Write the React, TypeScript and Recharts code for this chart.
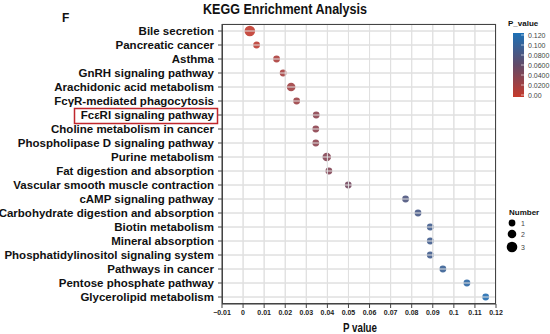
import React from 'react';
import { ScatterChart, Scatter, XAxis, YAxis, CartesianGrid } from 'recharts';

const pathways = [
  'Bile secretion',
  'Pancreatic cancer',
  'Asthma',
  'GnRH signaling pathway',
  'Arachidonic acid metabolism',
  'FcγR-mediated phagocytosis',
  'FcεRI signaling pathway',
  'Choline metabolism in cancer',
  'Phospholipase D signaling pathway',
  'Purine metabolism',
  'Fat digestion and absorption',
  'Vascular smooth muscle contraction',
  'cAMP signaling pathway',
  'Carbohydrate digestion and absorption',
  'Biotin metabolism',
  'Mineral absorption',
  'Phosphatidylinositol signaling system',
  'Pathways in cancer',
  'Pentose phosphate pathway',
  'Glycerolipid metabolism',
];

const pValues = [
  0.0032, 0.0064, 0.0159, 0.019, 0.0228, 0.0254, 0.0347, 0.0345, 0.0345, 0.0397,
  0.0407, 0.0499, 0.0771, 0.083, 0.0888, 0.0888, 0.0888, 0.0948, 0.1062, 0.1151,
];

const counts = [3, 1, 1, 1, 2, 1, 1, 1, 1, 2, 1, 1, 1, 1, 1, 1, 1, 1, 1, 1];

const xTicks = [-0.01, 0, 0.01, 0.02, 0.03, 0.04, 0.05, 0.06, 0.07, 0.08, 0.09, 0.1, 0.11, 0.12];
const colorbarValues = [0.12, 0.1, 0.08, 0.06, 0.04, 0.02, 0];
const colorbarLabels = ['0.120', '0.100', '0.0800', '0.0600', '0.0400', '0.0200', '0.00'];
const sizeLegend = [1, 2, 3];

const data = pathways.map((name, i) => ({ name, p: pValues[i], n: counts[i] }));

const FONT = "Arial, 'Liberation Sans', sans-serif";

// layout (chart 550x334, margin top 24 / right 54, x-axis height 30, y-axis width 222)
const PLOT_LEFT = 222;
const PLOT_RIGHT = 496;
const PLOT_TOP = 24;
const PLOT_BOTTOM = 304;
const GRID = '#e0e0e0';

const stops: [number, number[]][] = [
  [0, [198, 58, 44]],
  [0.06, [98, 74, 104]],
  [0.12, [28, 112, 182]],
];

function colorFor(p: number): string {
  const v = Math.max(0, Math.min(0.12, p));
  for (let i = 0; i < stops.length - 1; i++) {
    const [a, ca] = stops[i];
    const [b, cb] = stops[i + 1];
    if (v >= a && v <= b) {
      const t = (v - a) / (b - a);
      const c = ca.map((x, k) => Math.round(x + (cb[k] - x) * t));
      return `rgb(${c[0]},${c[1]},${c[2]})`;
    }
  }
  return 'rgb(28,112,182)';
}

const radiusFor = (n: number) => (n === 1 ? 3.4 : n === 2 ? 4.3 : 5.3);

const Dot = (props: any) => {
  const { cx, cy, payload } = props;
  if (cx == null || cy == null) return null;
  return (
    <circle cx={cx} cy={cy} r={radiusFor(payload.n)} fill={colorFor(payload.p)} fillOpacity={0.9} />
  );
};

const YTick = (props: any) => {
  const { x, y, payload } = props;
  return (
    <g>
      <line x1={PLOT_LEFT + 1} x2={PLOT_RIGHT - 1} y1={y} y2={y} stroke={GRID} strokeWidth={1} />
      <text x={x} y={y} dy={4} textAnchor="end" fontFamily={FONT} fontWeight="bold" fontSize={11.5} fill="#111">
        {payload.value}
      </text>
    </g>
  );
};

const fmtX = (v: number) => {
  if (v < 0) return '\u2212' + String(Math.abs(Math.round(v * 1000) / 1000));
  return String(Math.round(v * 1000) / 1000);
};

const XTick = (props: any) => {
  const { x, y, payload } = props;
  const inside = x > PLOT_LEFT + 1 && x < PLOT_RIGHT - 1;
  return (
    <g>
      {inside && <line x1={x} x2={x} y1={PLOT_TOP + 1} y2={PLOT_BOTTOM - 1} stroke={GRID} strokeWidth={1} />}
      <text x={x} y={y} dy="0.71em" textAnchor="middle" fontFamily={FONT} fontWeight="bold" fontSize={7} fill="#222">
        {fmtX(payload.value)}
      </text>
    </g>
  );
};

export default function App() {
  const barTop = 33;
  const barBottom = 97;
  const valTop = 35;
  const valBottom = 95;
  const yForVal = (v: number) => valBottom - (v / 0.12) * (valBottom - valTop);
  const legendY = [223, 234, 247];
  return (
    <div style={{ position: 'absolute', left: 0, top: 0, width: 550, height: 334, background: '#fff' }}>
      <ScatterChart width={550} height={334} margin={{ top: 24, right: 54, bottom: 0, left: 0 }}>
        <CartesianGrid stroke={GRID} strokeWidth={1} />
        <XAxis
          type="number"
          dataKey="p"
          domain={[-0.01, 0.12]}
          ticks={xTicks}
          interval={0}
          allowDataOverflow
          height={30}
          tick={<XTick />}
          tickSize={4}
          tickMargin={2}
          stroke="#444"
        />
        <YAxis
          type="category"
          dataKey="name"
          width={222}
          tick={<YTick />}
          tickSize={4}
          tickMargin={4}
          interval={0}
          stroke="#444"
          reversed
        />
        <Scatter data={data} shape={<Dot />} isAnimationActive={false} />
      </ScatterChart>
      <svg width={550} height={334} style={{ position: 'absolute', left: 0, top: 0, pointerEvents: 'none' }}>
        <defs>
          <linearGradient id="pgrad" x1="0" y1="1" x2="0" y2="0">
            <stop offset="0%" stopColor={colorFor(0)} />
            <stop offset="50%" stopColor={colorFor(0.06)} />
            <stop offset="100%" stopColor={colorFor(0.12)} />
          </linearGradient>
        </defs>
        <rect
          x={PLOT_LEFT + 0.5}
          y={PLOT_TOP + 0.5}
          width={PLOT_RIGHT - PLOT_LEFT - 1}
          height={PLOT_BOTTOM - PLOT_TOP - 1}
          fill="none"
          stroke="#444"
          strokeWidth={1}
        />
        <text x={203} y={14} fontFamily={FONT} fontWeight="bold" fontSize={14} fill="#111" textLength={164} lengthAdjust="spacingAndGlyphs">
          KEGG Enrichment Analysis
        </text>
        <text x={62} y={22} fontFamily={FONT} fontWeight="bold" fontSize={12} fill="#111">F</text>
        <rect x={74.5} y={108.5} width={143} height={15} fill="none" stroke="#c0272d" strokeWidth={1.5} />
        <text x={343} y={331.5} fontFamily={FONT} fontWeight="bold" fontSize={12.5} fill="#111" textLength={34} lengthAdjust="spacingAndGlyphs">
          P value
        </text>
        <text x={508} y={26} fontFamily={FONT} fontWeight="bold" fontSize={8} fill="#111">P_value</text>
        <rect x={513} y={barTop} width={11} height={barBottom - barTop} fill="url(#pgrad)" />
        {colorbarValues.map((v, i) => (
          <g key={i}>
            <line x1={521} x2={527} y1={yForVal(v)} y2={yForVal(v)} stroke="#fff" strokeWidth={0.6} />
            <text x={528} y={yForVal(v) + 2.5} fontFamily={FONT} fontSize={7} fill="#444">
              {colorbarLabels[i]}
            </text>
          </g>
        ))}
        <text x={509} y={215} fontFamily={FONT} fontWeight="bold" fontSize={8} fill="#111">Number</text>
        {sizeLegend.map((n, i) => (
          <g key={n}>
            <circle cx={512} cy={legendY[i]} r={radiusFor(n)} fill="#000" />
            <text x={521} y={legendY[i] + 2.5} fontFamily={FONT} fontSize={7} fill="#444">{n}</text>
          </g>
        ))}
      </svg>
    </div>
  );
}
